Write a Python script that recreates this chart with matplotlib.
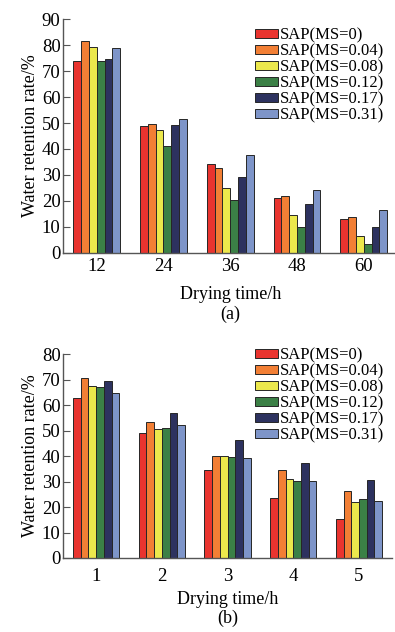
import numpy as np
import matplotlib
matplotlib.use("Agg")
from matplotlib import pyplot as plt

plt.rcParams['font.family'] = ['Liberation Serif', 'DejaVu Serif']
plt.rcParams['mathtext.fontset'] = 'stix'

series = ["SAP(MS=0)", "SAP(MS=0.04)", "SAP(MS=0.08)",
          "SAP(MS=0.12)", "SAP(MS=0.17)", "SAP(MS=0.31)"]
colors = ["#E9342F", "#F27F35", "#ECE84C", "#3B8046", "#2D325F", "#7E95C9"]

# panel (a)
labels_a = ["12", "24", "36", "48", "60"]
values_a = [
    [73.8, 48.8, 34.1, 21.0, 12.9],
    [81.6, 49.6, 32.5, 22.0, 13.9],
    [79.4, 47.4, 25.1, 14.4, 6.3],
    [73.8, 41.1, 20.3, 10.0, 3.2],
    [74.8, 49.4, 29.3, 18.8, 9.9],
    [79.0, 51.5, 37.8, 24.3, 16.5],
]

# panel (b)
labels_b = ["1", "2", "3", "4", "5"]
values_b = [
    [62.7, 49.2, 34.4, 23.4, 15.2],
    [70.6, 53.4, 39.9, 34.4, 26.4],
    [67.5, 50.5, 40.2, 31.2, 22.0],
    [67.0, 51.2, 39.8, 30.1, 23.0],
    [69.5, 57.1, 46.2, 37.2, 30.5],
    [64.9, 52.2, 39.4, 30.1, 22.5],
]


def draw_panel(ax, labels, values, ymax, tag, legend_pos, xpad, lpad):
    x = np.arange(len(labels))
    w = 0.117
    for i, (name, vals) in enumerate(zip(series, values)):
        ax.bar(x + (i - 2.5) * w, vals, w, color=colors[i], edgecolor="#262626",
               linewidth=0.7, label=name)
    ax.set_xlim(-0.5, 4.5)
    ax.set_ylim(0, ymax)
    ax.set_yticks(np.arange(0, ymax + 1, 10))
    ax.set_xticks(x)
    ax.set_xticklabels(labels)
    for s in ["top", "right"]:
        ax.spines[s].set_visible(False)
    for s in ["left", "bottom"]:
        ax.spines[s].set_color("#555555")
        ax.spines[s].set_linewidth(1.0)
    ax.tick_params(axis="y", direction="in", length=5, color="#555555",
                   labelsize=13.5, pad=2)
    ax.tick_params(axis="x", length=0, labelsize=13.5, pad=xpad)
    ax.set_ylabel("Water retention rate/%", fontsize=13, labelpad=2)
    ax.set_xlabel("Drying time/h\n(" + tag + ")", fontsize=13, labelpad=lpad,
                  linespacing=1.15)
    ax.legend(loc="upper left", bbox_to_anchor=legend_pos,
              bbox_transform=ax.figure.transFigure, frameon=False,
              fontsize=12, borderpad=0, borderaxespad=0, labelspacing=0.0,
              handlelength=1.4, handleheight=0.5, handletextpad=0.12)


fig = plt.figure(figsize=(3.95, 6.32), dpi=100)
ax_a = fig.add_axes([0.1603, 0.6002, 0.845, 0.3693])
draw_panel(ax_a, labels_a, values_a, 90, "a", (0.6456, 0.957), 4, 8)
ax_b = fig.add_axes([0.1603, 0.1171, 0.8314, 0.3224])
draw_panel(ax_b, labels_b, values_b, 80, "b", (0.6456, 0.450), 7.5, 4)

fig.savefig("out.png", dpi=100)
